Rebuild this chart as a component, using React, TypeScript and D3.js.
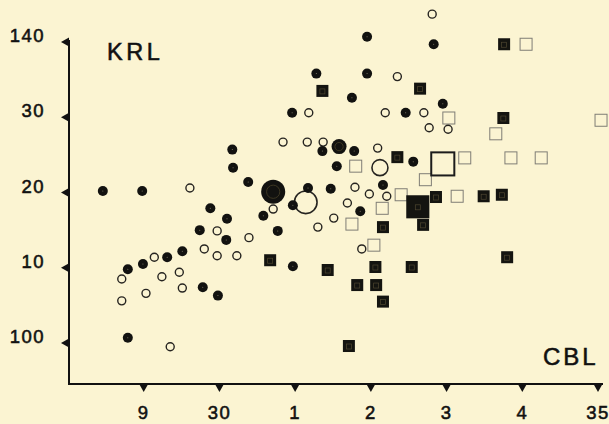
import React, { useEffect, useRef } from 'react';
import * as d3 from 'd3';

const xTickLabels = ['9', '30', '1', '2', '3', '4', '35'];
const yTickLabels = ['100', '10', '20', '30', '140'];

// [x, y, n] : x and y in tick units, n = relative weight of the marker
type Pt = [number, number, number];

const filledCircles: Pt[] = [
    [0.46, 3.02, 1], [0.98, 3.02, 1], [1.74, 2.5, 1], [0.79, 1.98, 1], [0.99, 2.05, 1],
    [1.31, 2.14, 1], [1.51, 2.22, 1], [1.78, 1.74, 1], [1.98, 1.63, 1], [0.79, 1.07, 1],
    [3.95, 5.07, 1], [3.28, 4.58, 1], [3.95, 4.58, 1], [3.75, 4.26, 1], [2.96, 4.06, 1],
    [3.36, 3.55, 1], [3.78, 3.55, 1], [2.17, 3.57, 1], [3.55, 3.35, 1], [2.18, 3.33, 1],
    [2.38, 3.14, 1], [3.17, 3.06, 1], [3.47, 3.05, 1], [4.16, 3.1, 1], [2.97, 2.83, 1],
    [2.58, 2.69, 1], [3.86, 2.75, 1], [1.88, 2.79, 1], [2.1, 2.65, 1], [2.77, 2.49, 1],
    [2.09, 2.37, 1], [2.97, 2.02, 1], [4.83, 4.97, 1], [4.95, 4.18, 1], [4.46, 4.06, 1],
    [4.56, 3.41, 1],
    [2.71, 3.01, 5.8], [3.58, 3.61, 2.25],
];

const openCircles: Pt[] = [
    [1.61, 3.06, 1], [1.14, 2.14, 1], [0.71, 1.85, 1], [1.24, 1.88, 1], [1.47, 1.94, 1],
    [1.03, 1.66, 1], [1.51, 1.73, 1], [0.71, 1.56, 1], [1.35, 0.95, 1], [4.81, 5.37, 1],
    [4.35, 4.54, 1], [3.18, 4.06, 1], [4.19, 4.06, 1], [2.84, 3.67, 1], [3.16, 3.67, 1],
    [3.37, 3.67, 1], [4.09, 3.59, 1], [4.7, 4.06, 1], [4.77, 3.86, 1], [5.02, 3.84, 1],
    [3.79, 3.07, 1], [3.98, 2.98, 1], [4.21, 2.95, 1], [3.69, 2.86, 1], [2.71, 2.78, 1],
    [3.51, 2.66, 1], [3.3, 2.54, 1], [1.97, 2.49, 1], [2.39, 2.4, 1], [1.8, 2.25, 1],
    [1.97, 2.16, 1], [2.23, 2.16, 1], [3.88, 2.25, 1],
    [3.14, 2.87, 8], [4.12, 3.33, 4],
];

const filledSquares: Pt[] = [
    [3.36, 4.35, 1], [4.35, 3.47, 1], [4.16, 2.54, 1], [2.67, 2.1, 1], [3.43, 1.97, 1],
    [4.06, 2.01, 1], [3.82, 1.77, 1], [4.07, 1.77, 1], [4.16, 1.55, 1], [3.71, 0.96, 1],
    [5.76, 4.97, 1], [4.65, 4.38, 1], [5.75, 3.99, 1], [4.86, 2.94, 1], [4.69, 2.57, 1],
    [5.49, 2.95, 1], [5.73, 2.97, 1], [5.8, 2.14, 1], [4.54, 2.01, 1],
    [4.62, 2.81, 3.7],
];

const openSquares: Pt[] = [
    [6.05, 4.97, 1], [5.03, 3.99, 1], [7.04, 3.96, 1], [5.65, 3.78, 1], [5.24, 3.46, 1],
    [5.85, 3.46, 1], [6.25, 3.46, 1], [4.72, 3.17, 1], [4.4, 2.97, 1], [5.14, 2.95, 1],
    [3.8, 3.35, 1], [4.15, 2.79, 1], [3.75, 2.58, 1], [4.04, 2.3, 1],
    [4.95, 3.38, 3.7],
];

const W = 609;
const H = 424;
const axisX = 69;
const axisY = 384;
const ink = '#111111';
const font = '"Liberation Sans", Arial, Helvetica, sans-serif';

export default function App() {
    const svgRef = useRef<SVGSVGElement>(null);

    useEffect(() => {
        if (!svgRef.current) return;
        const svg = d3.select(svgRef.current);
        svg.selectAll('*').remove();

        const x = d3.scaleLinear().domain([0, 7]).range([68, 598]);
        const y = d3.scaleLinear().domain([1, 5]).range([343, 42]);
        const rCircle = d3.scaleSqrt().domain([0, 1]).range([0, 5]);
        const rOpen = d3.scaleSqrt().domain([0, 1]).range([0, 4]);
        const side = d3.scaleSqrt().domain([0, 1]).range([0, 12]);

        svg.append('rect').attr('width', W).attr('height', H).attr('fill', '#fbf4d2');

        // axes
        svg.append('line')
            .attr('x1', axisX).attr('x2', axisX)
            .attr('y1', y(5) - 2).attr('y2', axisY + 1)
            .attr('stroke', ink).attr('stroke-width', 2);
        svg.append('line')
            .attr('x1', axisX - 1).attr('x2', x(7) + 5)
            .attr('y1', axisY).attr('y2', axisY)
            .attr('stroke', ink).attr('stroke-width', 2);

        const label = (t: string, px: number, py: number, size: number, anchor: string, spacing: number) =>
            svg.append('text')
                .attr('x', px).attr('y', py)
                .attr('text-anchor', anchor)
                .attr('font-family', font).attr('font-size', size)
                .attr('letter-spacing', spacing)
                .attr('fill', ink).attr('stroke', ink).attr('stroke-width', 0.55)
                .text(t);

        yTickLabels.forEach((lab, i) => {
            const ty = y(i + 1);
            svg.append('path')
                .attr('d', `M${axisX},${ty - 4.5}L${axisX - 8},${ty}L${axisX},${ty + 4.5}Z`)
                .attr('fill', ink);
            label(lab, 45, ty, 18.5, 'end', 1.5);
        });

        xTickLabels.forEach((lab, i) => {
            const tx = x(i + 1);
            svg.append('path')
                .attr('d', `M${tx - 4.5},${axisY}L${tx},${axisY + 8}L${tx + 4.5},${axisY}Z`)
                .attr('fill', ink);
            label(lab, tx, 419, 18.5, 'middle', 1.5);
        });

        label('KRL', 107, 60, 23.5, 'start', 3.5);
        label('CBL', 543, 365, 24, 'start', 3);

        // open squares
        const os = svg.append('g');
        openSquares.forEach(([a, b, n]) => {
            const s = side(n);
            const big = n > 1;
            os.append('rect')
                .attr('x', x(a) - s / 2).attr('y', y(b) - s / 2)
                .attr('width', s).attr('height', s)
                .attr('fill', 'none')
                .attr('stroke', big ? '#1c1c1c' : '#7f7d75')
                .attr('stroke-width', big ? 2 : 1);
        });

        // filled squares
        const fs = svg.append('g');
        filledSquares.forEach(([a, b, n]) => {
            const s = side(n);
            fs.append('rect')
                .attr('x', x(a) - s / 2).attr('y', y(b) - s / 2)
                .attr('width', s).attr('height', s)
                .attr('fill', '#141410');
            fs.append('rect')
                .attr('x', x(a) - 2.5).attr('y', y(b) - 2)
                .attr('width', 5).attr('height', 5)
                .attr('fill', 'none')
                .attr('stroke', '#4e4630').attr('stroke-width', 0.7);
        });

        // open circles
        const oc = svg.append('g');
        openCircles.forEach(([a, b, n]) => {
            oc.append('circle')
                .attr('cx', x(a)).attr('cy', y(b)).attr('r', rOpen(n))
                .attr('fill', 'none')
                .attr('stroke', '#262420').attr('stroke-width', n > 1 ? 1.6 : 1.4);
        });

        // filled circles
        const fc = svg.append('g');
        filledCircles.forEach(([a, b, n]) => {
            const r = rCircle(n);
            fc.append('circle')
                .attr('cx', x(a)).attr('cy', y(b)).attr('r', r)
                .attr('fill', '#121210');
            if (n > 1) {
                fc.append('circle')
                    .attr('cx', x(a)).attr('cy', y(b)).attr('r', r * 0.55)
                    .attr('fill', 'none')
                    .attr('stroke', '#3c3622').attr('stroke-width', 1);
            } else {
                fc.append('circle')
                    .attr('cx', x(a)).attr('cy', y(b)).attr('r', 0.5)
                    .attr('fill', '#8a8470');
            }
        });
    }, []);

    return (
        <svg
            ref={svgRef}
            width={W}
            height={H}
            style={{ position: 'absolute', left: 0, top: 0, display: 'block' }}
        />
    );
}
